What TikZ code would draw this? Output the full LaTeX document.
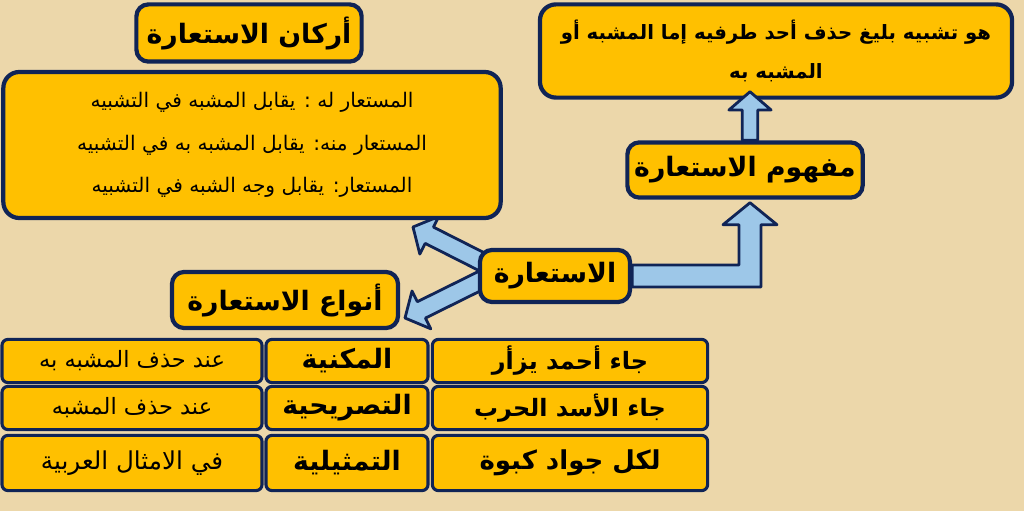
\documentclass[tikz,border=0pt]{standalone}
\usepackage{fontspec}
\usepackage{tikz}
\usetikzlibrary{calc}
\TeXXeTstate=1
\newfontfamily\arabicfont[Script=Arabic]{DejaVu Sans}
\definecolor{paper}{RGB}{236,215,170}
\definecolor{boxfill}{RGB}{255,192,0}
\definecolor{navy}{RGB}{16,36,86}
\definecolor{sky}{RGB}{157,199,232}
\newcommand{\ar}[1]{\beginR #1\endR}
% fat block arrow: start, tip, shaft half width, head half width, head length
\newcommand{\fatarrow}[5]{%
  \coordinate (fa) at ($(#2)!#5!(#1)$);
  \draw[arrowbody] ($(#1)!#3!90:(#2)$) -- ($(fa)!#3!90:(#2)$) -- ($(fa)!#4!90:(#2)$) -- (#2)
    -- ($(fa)!#4!-90:(#2)$) -- ($(fa)!#3!-90:(#2)$) -- ($(#1)!#3!-90:(#2)$) -- cycle;}
\pgfdeclarelayer{paper}
\pgfdeclarelayer{arrows}
\pgfsetlayers{paper,arrows,main}
\tikzset{
  headbox/.style={draw=navy, line width=3pt, fill=boxfill, rounded corners=0.3cm,
    inner sep=0pt, font=\arabicfont\bfseries\fontsize{19}{23}\selectfont},
  textbox/.style={draw=navy, line width=3pt, fill=boxfill, rounded corners=0.4cm,
    inner sep=0pt, align=center},
  cell/.style={draw=navy, line width=2.2pt, fill=boxfill, rounded corners=0.15cm,
    inner sep=0pt, font=\arabicfont\bfseries\fontsize{17}{20}\selectfont},
  kindcell/.style={cell, font=\arabicfont\bfseries\fontsize{19}{22}\selectfont},
  whencell/.style={cell, font=\arabicfont\fontsize{16}{19}\selectfont},
  arrowbody/.style={draw=navy, line width=2pt, fill=sky, line join=round}
}
\begin{document}
\begin{tikzpicture}[x=0.025cm, y=-0.025cm]
	\begin{pgfonlayer}{paper}
		\fill[paper] (0,0) rectangle (1024,511);
	\end{pgfonlayer}
	\useasboundingbox (0,0) rectangle (1024,511);

	% upper left
	\node[headbox, minimum width=5.63cm, minimum height=1.43cm] (arkan) at (249,33) {\ar{أركان الاستعارة}};
	\node[textbox, minimum width=12.43cm, minimum height=3.65cm,
		font=\arabicfont\fontsize{14.3}{30}\selectfont] (arkanbody) at (252,145)
		{\ar{المستعار له : يقابل المشبه في التشبيه}\\
		 \ar{المستعار منه: يقابل المشبه به في التشبيه}\\
		 \ar{المستعار: يقابل وجه الشبه في التشبيه}};

	% upper right
	\node[textbox, minimum width=11.8cm, minimum height=2.33cm,
		font=\arabicfont\bfseries\fontsize{14}{28}\selectfont] (def) at (776,51)
		{\ar{هو تشبيه بليغ حذف أحد طرفيه إما المشبه أو}\\ \ar{المشبه به}};
	\node[headbox, minimum width=5.88cm, minimum height=1.38cm] (mafhum) at (745,170) {\ar{مفهوم الاستعارة}};

	% centre
	\node[headbox, minimum width=3.75cm, minimum height=1.3cm] (istiara) at (555,276) {\ar{الاستعارة}};
	\node[headbox, minimum width=5.65cm, minimum height=1.4cm] (anwa) at (285,300) {\ar{أنواع الاستعارة}};

	% table of kinds
	\node[cell, minimum width=6.88cm, minimum height=1.08cm] (ex1) at (570,361) {\ar{جاء أحمد يزأر}};
	\node[kindcell, minimum width=4.05cm, minimum height=1.08cm] (kind1) at (347,361) {\ar{المكنية}};
	\node[whencell, minimum width=6.5cm, minimum height=1.08cm] (when1) at (132,361) {\ar{عند حذف المشبه به}};
	\node[cell, minimum width=6.88cm, minimum height=1.08cm] (ex2) at (570,408) {\ar{جاء الأسد الحرب}};
	\node[kindcell, minimum width=4.05cm, minimum height=1.08cm] (kind2) at (347,408) {\ar{التصريحية}};
	\node[whencell, minimum width=6.5cm, minimum height=1.08cm] (when2) at (132,408) {\ar{عند حذف المشبه}};
	\node[cell, minimum width=6.88cm, minimum height=1.38cm, font=\arabicfont\bfseries\fontsize{18.5}{22}\selectfont] (ex3) at (570,463) {\ar{لكل جواد كبوة}};
	\node[kindcell, minimum width=4.05cm, minimum height=1.38cm] (kind3) at (347,463) {\ar{التمثيلية}};
	\node[whencell, minimum width=6.5cm, minimum height=1.38cm, font=\arabicfont\fontsize{17.5}{21}\selectfont] (when3) at (132,463) {\ar{في الامثال العربية}};

	% arrows
	\begin{pgfonlayer}{arrows}
		\coordinate (fork) at ($(istiara.center)+(-55,-5)$);
		\coordinate (left1tip) at (413,227);
		\fatarrow{fork}{left1tip}{6.5pt}{15pt}{13pt}
		\coordinate (left2tip) at (405,318);
		\fatarrow{fork}{left2tip}{6.5pt}{15pt}{13pt}
		\coordinate (tip) at ($(mafhum.south)+(5,3)$);
		\coordinate (elbow) at (tip |- istiara.east);
		\draw[arrowbody] ([shift={(0,-11)}]istiara.east) -- ([shift={(-11,-11)}]elbow)
			-- ([shift={(-11,22)}]tip) -- ([shift={(-27,22)}]tip) -- (tip)
			-- ([shift={(27,22)}]tip) -- ([shift={(11,22)}]tip)
			-- ([shift={(11,11)}]elbow) -- ([shift={(0,11)}]istiara.east) -- cycle;
	\end{pgfonlayer}
	\coordinate (up1) at ($(mafhum.north)+(5,0)$);
	\coordinate (up2) at ($(def.south -| up1)+(0,-8)$);
	\fatarrow{up1}{up2}{5.5pt}{15pt}{13pt}
\end{tikzpicture}
\end{document}
